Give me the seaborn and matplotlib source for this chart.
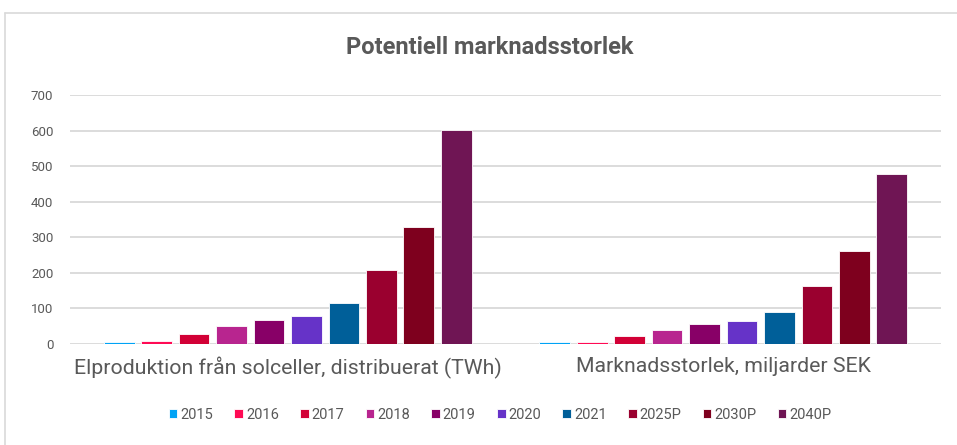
import pandas as pd
import matplotlib
matplotlib.use("Agg")
import matplotlib.pyplot as plt
from matplotlib.lines import Line2D
import seaborn as sns

# values
categories = ["Elproduktion från solceller, distribuerat (TWh)",
              "Marknadsstorlek, miljarder SEK"]
years = ["2015", "2016", "2017", "2018", "2019", "2020", "2021",
         "2025P", "2030P", "2040P"]
elproduktion = [5, 8, 27, 52, 68, 80, 114, 208, 330, 602]
marknad = [5, 6, 22, 40, 56, 64, 91, 164, 261, 478]
palette = ["#00a3f5", "#ff0a54", "#d20036", "#b8258f", "#880067",
           "#6633c8", "#005f99", "#9a002f", "#7e001e", "#6f1554"]

df = pd.DataFrame({
    "kategori": [categories[0]] * len(years) + [categories[1]] * len(years),
    "år": years * 2,
    "värde": elproduktion + marknad,
})

sns.set_theme(style="white")
plt.rcParams["font.family"] = ["Roboto", "DejaVu Sans"]
grey = "#595959"

fig = plt.figure(figsize=(9.57, 4.45), dpi=100)
ax = fig.add_axes([70 / 957, 1 - 344 / 445, 871 / 957, 249 / 445])

sns.barplot(data=df, x="kategori", y="värde", hue="år", hue_order=years,
            palette=palette, saturation=1, width=0.86, gap=0.18,
            edgecolor="white", linewidth=0.6, ax=ax, zorder=3)

ax.set_ylim(0, 700)
ax.set_yticks(range(0, 701, 100))
ax.grid(axis="y", color="#d9d9d9", linewidth=1.3, zorder=0)
ax.set_axisbelow(True)
sns.despine(ax=ax, left=True, bottom=True)
ax.set_xlabel("")
ax.set_ylabel("")
ax.tick_params(axis="y", length=0, pad=12, labelsize=9.5, labelcolor=grey)
ax.tick_params(axis="x", length=0, pad=9, labelsize=15.3, labelcolor=grey)

handles, labels = ax.get_legend_handles_labels()
ax.legend_.remove()
fig.legend(handles, labels, loc="center", bbox_to_anchor=(500 / 957, 1 - 415 / 445),
           ncol=10, frameon=False, fontsize=10.5, labelcolor=grey,
           handlelength=0.6, handleheight=0.6, handletextpad=0.2,
           columnspacing=1.45)

fig.text(490 / 957, 1 - 47 / 445, "Potentiell marknadsstorlek",
         ha="center", va="center", fontsize=17, fontweight="bold", color=grey)

# outer chart frame (only top and left edges visible in the crop)
fig.add_artist(Line2D([5 / 957, 5 / 957], [0, 1 - 13 / 445],
                      transform=fig.transFigure, color="#d9d9d9", linewidth=1.2))
fig.add_artist(Line2D([5 / 957, 1], [1 - 13 / 445, 1 - 13 / 445],
                      transform=fig.transFigure, color="#d9d9d9", linewidth=1.2))

fig.savefig("out.png", dpi=100)
